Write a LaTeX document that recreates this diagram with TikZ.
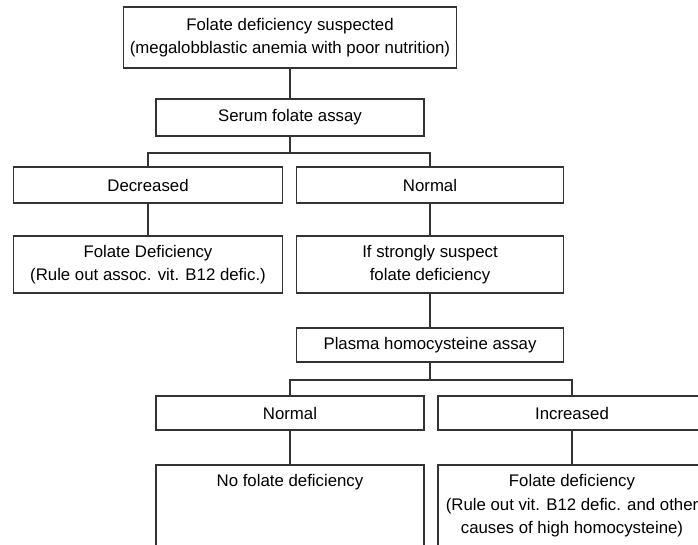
\documentclass[tikz,border=0pt]{standalone}
\usepackage{fontspec}
\setmainfont{Liberation Sans}
\usetikzlibrary{calc}
\tikzset{
	box/.style={draw=black!80, line width=1.5pt, inner sep=0pt, align=center, font=\fontsize{16.8}{23.5}\selectfont},
	link/.style={draw=black!80, line width=1.5pt},
	opentop/.style={box, anchor=north, text height=12.3pt, text depth=120pt, inner ysep=9.7pt}
}

\begin{document}
\begin{tikzpicture}[x=1pt, y=-1pt]
			%%%%% START %%%%%
			
			\useasboundingbox (0, 0) rectangle (698, 544);
			\clip (0, 0) rectangle (698, 544);
			
			\node[box, minimum width=333pt, minimum height=61pt] (susp) at (290, 37.5) {Folate deficiency suspected\\(megalobblastic anemia with  poor nutrition)};
			\node[box, minimum width=268pt, minimum height=37pt] (serum) at (290, 117.5) {Serum folate assay};
			
			\node[box, minimum width=269pt, minimum height=36pt] (decr) at (148, 185) {Decreased};
			\node[box, minimum width=267pt, minimum height=36pt] (norm) at (430, 185) {Normal};
			
			\node[box, minimum width=269pt, minimum height=57pt] (fdef) at (148, 264.5) {Folate Deficiency\\(Rule out assoc. vit. B12 defic.)};
			\node[box, minimum width=267pt, minimum height=57pt] (strong) at (430, 264.5) {If strongly suspect\\folate deficiency};
			
			\node[box, minimum width=267pt, minimum height=34pt] (plasma) at (430, 345) {Plasma homocysteine assay};
			
			\node[box, minimum width=268pt, minimum height=34pt] (hnorm) at (290, 413) {Normal};
			\node[box, minimum width=268pt, minimum height=34pt] (hinc) at (572, 413) {Increased};
			
			% text sits at the top, the boxes run past the bottom edge
			\node[opentop, minimum width=268pt] (nofol) at (290, 464) {No  folate deficiency};
			\node[opentop, minimum width=268pt, text height=59.3pt] (hfol) at (572, 464) {Folate deficiency\\(Rule out vit. B12 defic. and other\\causes of high homocysteine)};
			
			\draw[link] (susp.south) -- (serum.north);
			\draw[link] (serum.south) -- ++(0, 16) coordinate (b1) -| (decr.north);
			\draw[link] (b1) -| (norm.north);
			
			\draw[link] (decr.south) -- (fdef.north);
			\draw[link] (norm.south) -- (strong.north);
			\draw[link] (strong.south) -- (plasma.north);
			
			\draw[link] (plasma.south) -- ++(0, 17) coordinate (b2) -| (hnorm.north);
			\draw[link] (b2) -| (hinc.north);
			
			\draw[link] (hnorm.south) -- (nofol.north);
			\draw[link] (hinc.south) -- (hfol.north);
			
			%%%%% END %%%%%
		\end{tikzpicture}
\end{document}
